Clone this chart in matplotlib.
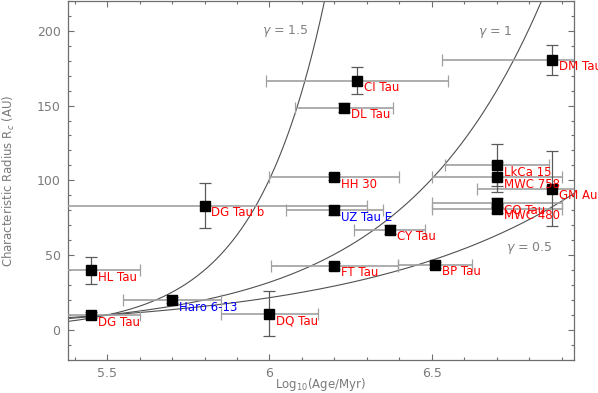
import numpy as np
import matplotlib
matplotlib.use('Agg')
import matplotlib.pyplot as plt
from matplotlib.ticker import MultipleLocator, FormatStrFormatter

# source names, log10 age, characteristic radius and errors
names = ['DG Tau', 'HL Tau', 'Haro 6-13', 'DQ Tau', 'DG Tau b', 'FT Tau', 'BP Tau',
         'CY Tau', 'UZ Tau E', 'HH 30', 'DL Tau', 'CI Tau', 'DM Tau', 'GM Aur',
         'LkCa 15', 'MWC 758', 'CQ Tau', 'MWC 480']
log_age = [5.45, 5.45, 5.70, 6.00, 5.80, 6.20, 6.51,
           6.37, 6.20, 6.20, 6.23, 6.27, 6.87, 6.87,
           6.70, 6.70, 6.70, 6.70]
log_age_err = [0.15, 0.15, 0.15, 0.15, 0.50, 0.195, 0.115,
               0.11, 0.15, 0.20, 0.15, 0.28, 0.34, 0.23,
               0.16, 0.20, 0.20, 0.20]
radius = [10, 40, 20, 11, 83, 43, 43.5,
          67, 80, 102, 148.5, 166.5, 180.5, 94.5,
          110, 102, 85, 81]
radius_err = [2, 9, 2, 15, 15, 2, 2,
              3, 3, 2, 3, 9, 10, 25,
              14, 10, 3, 3]
label_colors = ['red', 'red', 'blue', 'red', 'red', 'red', 'red',
                'red', 'blue', 'red', 'red', 'red', 'red', 'red',
                'red', 'red', 'red', 'red']

# similarity-solution growth R_c ~ t^(1/(2-gamma)), normalised at log age 5.45
gammas = [1.5, 1.0, 0.5]
gamma_norm = [8.0, 9.0, 9.3]
gamma_text = ['$\\gamma$ = 1.5', '$\\gamma$ = 1', '$\\gamma$ = 0.5']
gamma_text_pos = [(6.05, 200), (6.695, 199), (6.80, 55)]

grey = '#6e6e6e'
txt_grey = '#7a7a7a'

fig = plt.figure(figsize=(5.98, 3.93), dpi=100)
ax = fig.add_axes([0.1129, 0.084, 0.847, 0.914])

xs = np.linspace(5.30, 7.0, 400)
for g, r0, txt, pos in zip(gammas, gamma_norm, gamma_text, gamma_text_pos):
    ax.plot(xs, r0 * 10 ** ((xs - 5.45) / (2.0 - g)), color='#505050', lw=0.8, zorder=2)
    ax.text(pos[0], pos[1], txt, color='#808080', fontsize=9, ha='center', va='center')

# horizontal and vertical error bars drawn separately (different greys)
ax.errorbar(log_age, radius, xerr=log_age_err, fmt='none', ecolor='#a0a0a0',
            elinewidth=1.2, capsize=4.5, capthick=0.9, zorder=3)
ax.errorbar(log_age, radius, yerr=radius_err, fmt='none', ecolor='#5a5a5a',
            elinewidth=0.9, capsize=4, capthick=0.9, zorder=3)
ax.plot(log_age, radius, 's', color='black', markersize=7, zorder=4)

for n, x, y, c in zip(names, log_age, radius, label_colors):
    ax.annotate(n, (x, y), xytext=(5, -5), textcoords='offset points',
                color=c, fontsize=8.5, ha='left', va='center', zorder=5)

ax.set_xlim(5.378, 6.938)
ax.set_ylim(-20, 220)
ax.xaxis.set_major_locator(MultipleLocator(0.5))
ax.xaxis.set_minor_locator(MultipleLocator(0.1))
ax.xaxis.set_major_formatter(FormatStrFormatter('%g'))
ax.yaxis.set_major_locator(MultipleLocator(50))
ax.yaxis.set_minor_locator(MultipleLocator(10))
ax.tick_params(which='both', direction='in', top=True, right=True, colors=grey,
               labelcolor=txt_grey, labelsize=9)
ax.tick_params(which='major', length=4.5, width=0.8, pad=5)
ax.tick_params(which='minor', length=2.3, width=0.8)
for s in ax.spines.values():
    s.set_color(grey)
    s.set_linewidth(0.9)

ax.set_xlabel('Log$_{10}$(Age/Myr)', color=txt_grey, fontsize=8.5, labelpad=-3)
ax.set_ylabel('Characteristic Radius R$_c$ (AU)', color=txt_grey, fontsize=8.5, labelpad=14)

fig.savefig('out.png', dpi=100)
